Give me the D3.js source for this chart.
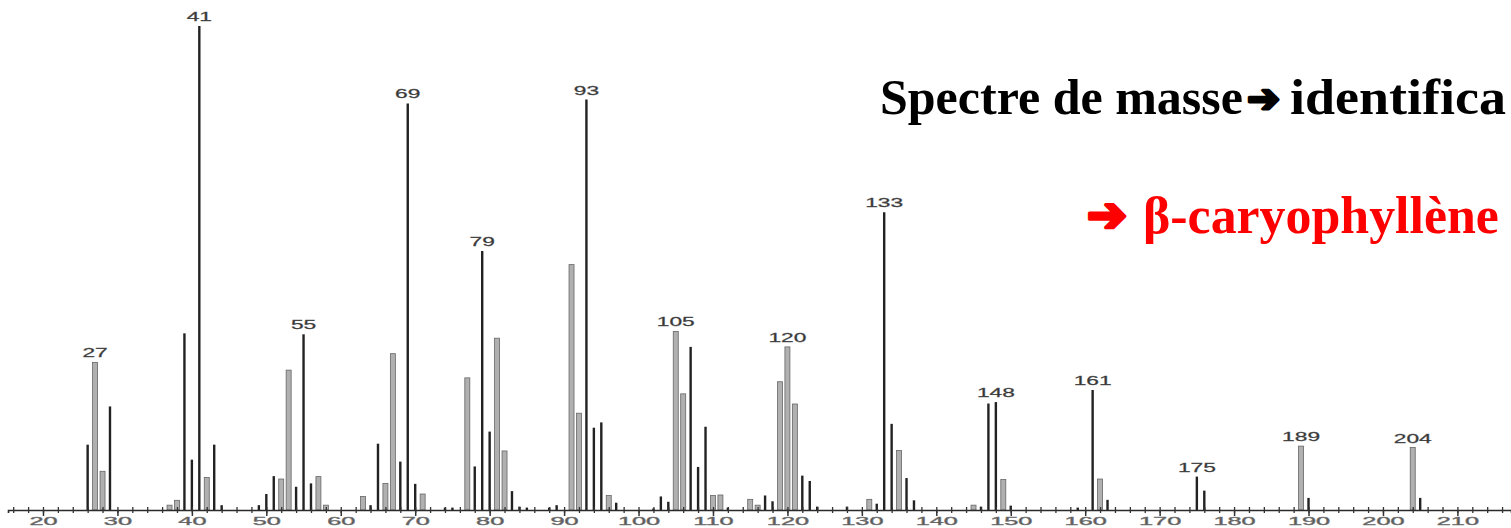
<!DOCTYPE html>
<html>
<head>
<meta charset="utf-8">
<script src="https://cdn.jsdelivr.net/npm/d3@7"></script>
<style>
  body { margin: 0; background: #fff; }
  svg { display: block; overflow: hidden; }
</style>
</head>
<body>
<div id="spectrum"></div>
<script>
// m/z and relative intensity (%)
var masses = [26, 27, 28, 29, 37, 38, 39, 40, 41, 42, 43, 44,
  49, 50, 51, 52, 53, 54, 55, 56, 57, 58,
  63, 64, 65, 66, 67, 68, 69, 70, 71, 74, 75,
  77, 78, 79, 80, 81, 82, 83, 84, 85, 88, 89,
  91, 92, 93, 94, 95, 96, 97,
  102, 103, 104, 105, 106, 107, 108, 109, 110, 111, 112,
  115, 116, 117, 118, 119, 120, 121, 122, 123, 124, 128,
  131, 132, 133, 134, 135, 136, 137,
  145, 146, 147, 148, 149, 150, 159, 161, 162, 163,
  175, 176, 189, 190, 204, 205]
var intensities = [13.5, 30.5, 8, 21.4, 1, 2, 36.5, 10.4, 100, 6.7, 13.5, 1,
  1, 3.3, 7, 6.4, 28.9, 4.8, 36.3, 5.5, 6.9, 1,
  2.8, 1, 13.7, 5.5, 32.3, 10, 84, 5.4, 3.3, 0.5, 0.5,
  27.3, 9, 53.5, 16.2, 35.5, 12.2, 3.9, 0.7, 0.5, 0.5, 1,
  50.7, 20, 84.8, 17, 18.1, 3, 1.5,
  0.3, 2.8, 1.7, 36.9, 24, 33.7, 8.9, 17.2, 3, 3.1, 0.5,
  2.2, 1, 3, 1.8, 26.5, 33.7, 21.9, 7.1, 6, 0.7, 0.7,
  2.2, 1.3, 61.5, 17.8, 12.3, 6.6, 2,
  1, 0.7, 22, 22.3, 6.3, 0.9, 0.5, 24.8, 6.4, 2.1,
  6.9, 4, 13.2, 2.5, 12.9, 2.5]
var labelled = [27, 41, 55, 69, 79, 93, 105, 120, 133, 148, 161, 175, 189, 204]
var majorTicks = d3.range(20, 211, 10)
var minorTicks = d3.range(16, 218, 2)

var titleText = "Spectre de masse"
var titleRest = "identifica"
var compoundText = "\u03b2-caryophyll\u00e8ne"

// peaks that come out as wide grey bars in the scanned print
var greyPeaks = [27, 28, 37, 38, 42, 52, 53, 57, 58, 63, 66, 67, 71, 77, 81, 82,
  91, 92, 96, 105, 106, 110, 111, 115, 116, 119, 120, 121, 131, 135, 145,
  149, 162, 189, 204]

var width = 1511
var height = 528

var svg = d3.select("#spectrum")
    .append("svg")
    .attr("width", width)
    .attr("height", height)

var x = d3.scaleLinear().domain([15.3, 217.2]).range([8, 1511])
var y = d3.scaleLinear().domain([0, 100]).range([510, 26])

var peaks = masses.map((m, i) => ({ m: m, v: intensities[i] }))

// grey bars first, dark lines on top
svg.selectAll("rect.grey")
    .data(peaks.filter(d => greyPeaks.includes(d.m)))
    .enter()
    .append("rect")
    .attr("class", "grey")
    .attr("x", d => x(d.m) - 2.5)
    .attr("y", d => y(d.v))
    .attr("width", 5)
    .attr("height", d => y(0) - y(d.v))
    .style("fill", "#b0b0b0")
    .style("stroke", "#666")
    .style("stroke-width", 0.8)

svg.selectAll("line.peak")
    .data(peaks.filter(d => !greyPeaks.includes(d.m)))
    .enter()
    .append("line")
    .attr("class", "peak")
    .attr("x1", d => x(d.m))
    .attr("x2", d => x(d.m))
    .attr("y1", y(0))
    .attr("y2", d => y(d.v))
    .style("stroke", "#222")
    .style("stroke-width", 2.4)

// axis: small ticks every 2, long ticks + labels every 10
svg.append("g")
    .attr("transform", `translate(0,${y(0)})`)
    .call(d3.axisBottom(x).tickValues(minorTicks).tickSize(3).tickFormat(""))
    .call(g => g.selectAll(".tick line").attr("y1", -3).attr("stroke", "#333").attr("stroke-width", 1.3))
    .call(g => g.select(".domain").attr("stroke", "#2a2a2a").attr("stroke-width", 1.6))

svg.append("g")
    .attr("transform", `translate(0,${y(0)})`)
    .call(d3.axisBottom(x).tickValues(majorTicks).tickSize(6).tickFormat(d3.format("d")))
    .call(g => g.select(".domain").remove())
    .call(g => g.selectAll(".tick line").attr("stroke", "#333").attr("stroke-width", 1.5))
    .call(g => g.selectAll(".tick text")
        .attr("y", 15)
        .attr("dy", 0)
        .attr("transform", "scale(2.3,1)")
        .style("font-family", "Liberation Sans, Arial, sans-serif")
        .style("font-size", "11px")
        .style("fill", "#555")
        .style("stroke", "#777")
        .style("stroke-width", 0.4))

// peak labels
svg.selectAll("text.peak-label")
    .data(peaks.filter(d => labelled.includes(d.m)))
    .enter()
    .append("text")
    .attr("class", "peak-label")
    .attr("transform", d => `translate(${x(d.m)},${y(d.v) - 5}) scale(1.75,1)`)
    .attr("text-anchor", "middle")
    .style("font-family", "Liberation Sans, Arial, sans-serif")
    .style("font-size", "13px")
    .style("fill", "#333")
    .style("stroke", "#555")
    .style("stroke-width", 0.3)
    .text(d => d.m)

// titles, sized so the words span what they span in the picture
function fitSize(txt, family, target) {
    var t = svg.append("text")
        .style("font-family", family)
        .style("font-weight", "bold")
        .style("font-size", "100px")
        .text(txt)
    var w = t.node().getComputedTextLength()
    t.remove()
    return 100 * target / w
}

var serif = "Liberation Serif, serif"
var arrowFont = "DejaVu Sans, sans-serif"

var titleSize = fitSize(titleText, serif, 363)
svg.append("text")
    .attr("x", 880).attr("y", 114)
    .style("font-family", serif).style("font-weight", "bold")
    .style("font-size", titleSize + "px")
    .text(titleText)
svg.append("text")
    .attr("x", 1247).attr("y", 112)
    .style("font-family", arrowFont).style("font-weight", "bold")
    .style("font-size", fitSize("\u2794", arrowFont, 33) + "px")
    .style("stroke", "#000").style("stroke-width", 3).style("stroke-linejoin", "round")
    .text("\u2794")
svg.append("text")
    .attr("x", 1290).attr("y", 114)
    .attr("textLength", 216)
    .attr("lengthAdjust", "spacingAndGlyphs")
    .style("font-family", serif).style("font-weight", "bold")
    .style("font-size", titleSize + "px")
    .text(titleRest)

var compSize = fitSize(compoundText, serif, 356)
svg.append("text")
    .attr("x", 1087).attr("y", 231)
    .style("font-family", arrowFont).style("font-weight", "bold")
    .style("font-size", fitSize("\u2794", arrowFont, 40) + "px")
    .style("fill", "#ff0000")
    .style("stroke", "#ff0000").style("stroke-width", 3.5).style("stroke-linejoin", "round")
    .text("\u2794")
svg.append("text")
    .attr("x", 1143).attr("y", 233)
    .style("font-family", serif).style("font-weight", "bold")
    .style("font-size", compSize + "px")
    .style("fill", "#ff0000")
    .text(compoundText)
</script>
</body>
</html>
